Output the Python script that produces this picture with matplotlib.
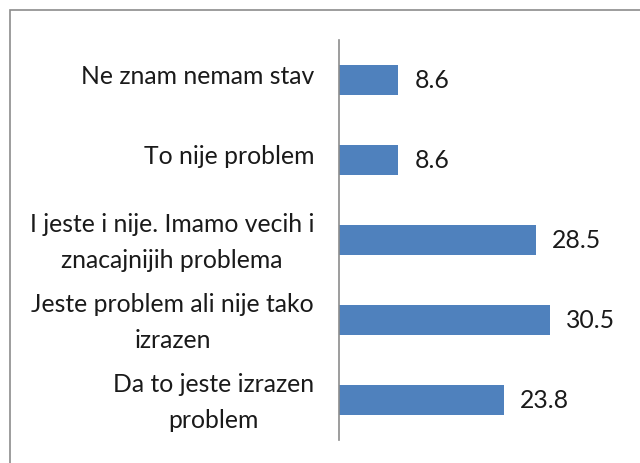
import matplotlib
matplotlib.use("Agg")
import matplotlib.pyplot as plt
import matplotlib.transforms as mtransforms
from matplotlib.patches import Rectangle

categories = ["Da to jeste izrazen\nproblem",
              "Jeste problem ali nije tako\nizrazen",
              "I jeste i nije. Imamo vecih i\nznacajnijih problema",
              "To nije problem",
              "Ne znam nemam stav"]
values = [23.8, 30.5, 28.5, 8.6, 8.6]

plt.rcParams['font.family'] = ['Lato', 'DejaVu Sans']

fig = plt.figure(figsize=(6.4, 4.63), dpi=100)
fig.patches.append(Rectangle((10/640, -0.2), 2, 0.2 + 1 - 10/463,
                             transform=fig.transFigure, fill=False,
                             edgecolor='#8c8c8c', linewidth=1.2))
ax = fig.add_axes([339/640, 1 - 440/463, 242/640, 400/463])
y = range(len(categories))
ax.barh(y, values, height=0.375, color='#4F81BD')
ax.set_xlim(0, 35)
ax.set_ylim(-0.5, len(categories) - 0.5)
for s in ['top', 'right', 'bottom']:
    ax.spines[s].set_visible(False)
ax.spines['left'].set_color('#8c8c8c')
ax.spines['left'].set_linewidth(1.2)
ax.set_xticks([])
ax.set_yticks(list(y))
labels = ax.set_yticklabels(categories, fontsize=17.8, multialignment='center',
                            linespacing=1.7, color='#1a1a1a')
ax.tick_params(axis='y', length=0, pad=18)
shift = mtransforms.ScaledTranslation(0, 6/100, fig.dpi_scale_trans)
for lab in labels:
    lab.set_transform(lab.get_transform() + shift)
for yi, v in zip(y, values):
    ax.annotate(f"{v:.1f}", (v, yi), xytext=(11.5, 0), textcoords='offset points',
                va='center', ha='left', fontsize=17.8, color='#1a1a1a')
fig.savefig("out.png", dpi=100)
